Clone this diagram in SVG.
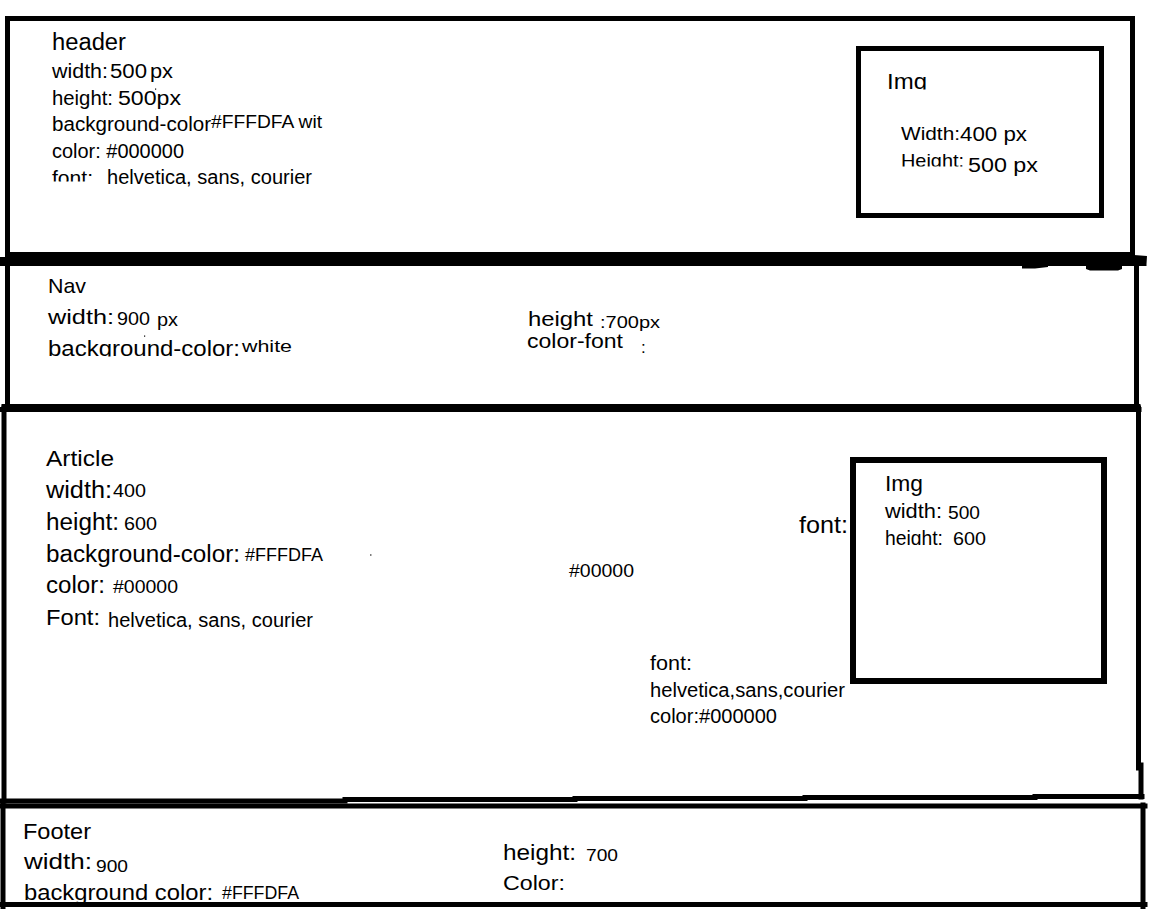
<svg xmlns="http://www.w3.org/2000/svg" width="1152" height="909" viewBox="0 0 1152 909">
<style>
.b{fill:none;stroke:#000;stroke-width:5;stroke-linecap:square}
.t{font-family:"Liberation Sans",Arial,sans-serif;fill:#000}
</style>
<defs>
<clipPath id="cHeadFont" clipPathUnits="userSpaceOnUse"><rect x="40" y="160" width="70" height="21.5"/></clipPath>
<clipPath id="cImg1" clipPathUnits="userSpaceOnUse"><rect x="870" y="60" width="80" height="29.5"/></clipPath>
<clipPath id="cH1" clipPathUnits="userSpaceOnUse"><rect x="890" y="145" width="80" height="21.5"/></clipPath>
<clipPath id="cNavBg" clipPathUnits="userSpaceOnUse"><rect x="40" y="330" width="210" height="26.5"/></clipPath>
<clipPath id="cImg2H" clipPathUnits="userSpaceOnUse"><rect x="875" y="522" width="130" height="23"/></clipPath>
</defs>
<rect width="1152" height="909" fill="#fff"/>

<g id="header">
<rect class="b" x="7.5" y="18.5" width="1125" height="236"/>
<text class="t" x="52" y="50" font-size="23" textLength="74" lengthAdjust="spacingAndGlyphs">header</text>
<text class="t" x="52" y="78" font-size="20" textLength="56" lengthAdjust="spacingAndGlyphs">width:</text>
<text class="t" x="110" y="78" font-size="20" textLength="37" lengthAdjust="spacingAndGlyphs">500</text>
<text class="t" x="150" y="78" font-size="20" textLength="23" lengthAdjust="spacingAndGlyphs">px</text>
<text class="t" x="52" y="105" font-size="20" textLength="61" lengthAdjust="spacingAndGlyphs">height:</text>
<text class="t" x="118" y="105" font-size="20" textLength="63" lengthAdjust="spacingAndGlyphs">500px</text>
<text class="t" x="52" y="131" font-size="20" textLength="159" lengthAdjust="spacingAndGlyphs">background-color</text>
<text class="t" x="211" y="128" font-size="18" textLength="111" lengthAdjust="spacingAndGlyphs">#FFFDFA wit</text>
<text class="t" x="52" y="158" font-size="20" textLength="132" lengthAdjust="spacingAndGlyphs">color: #000000</text>
<text class="t" x="52" y="185" font-size="20" textLength="41" lengthAdjust="spacingAndGlyphs" clip-path="url(#cHeadFont)">font:</text>
<text class="t" x="107" y="184" font-size="20" textLength="205" lengthAdjust="spacingAndGlyphs">helvetica, sans, courier</text>
<rect x="155" y="88.5" width="1.2" height="1.2" fill="#000"/>
</g>

<g id="header-img">
<rect class="b" x="858.5" y="48.5" width="243" height="167"/>
<text class="t" x="887" y="89" font-size="22" textLength="40" lengthAdjust="spacingAndGlyphs" clip-path="url(#cImg1)">Img</text>
<text class="t" x="901" y="140" font-size="18.5" textLength="59" lengthAdjust="spacingAndGlyphs">Width:</text>
<text class="t" x="960" y="141" font-size="20" textLength="67" lengthAdjust="spacingAndGlyphs">400 px</text>
<text class="t" x="901" y="167" font-size="18.5" textLength="63" lengthAdjust="spacingAndGlyphs" clip-path="url(#cH1)">Height:</text>
<text class="t" x="968" y="172" font-size="20" textLength="70" lengthAdjust="spacingAndGlyphs">500 px</text>
</g>

<g id="nav">
<path class="b" d="M2 261.5 H1142" style="stroke-width:9"/>
<path d="M1134 255 L1147 256 L1146 264 L1136 265 Z" fill="#000"/>
<path class="b" d="M7.5 262 V408"/>
<path class="b" d="M4 406.5 H1138"/>
<path class="b" d="M1136.5 262 V407"/>
<path d="M1022 265 H1048 V267 L1035 268.5 H1022 Z M1086 265 H1122 V269 L1118 270.5 H1090 L1086 269 Z" fill="#000"/>
<text class="t" x="48" y="293" font-size="21" textLength="38" lengthAdjust="spacingAndGlyphs">Nav</text>
<text class="t" x="48" y="324" font-size="20" textLength="66" lengthAdjust="spacingAndGlyphs">width:</text>
<text class="t" x="117" y="325" font-size="17.5" textLength="33" lengthAdjust="spacingAndGlyphs">900</text>
<text class="t" x="157" y="326" font-size="17.5" textLength="21" lengthAdjust="spacingAndGlyphs">px</text>
<text class="t" x="48" y="356" font-size="22" textLength="192" lengthAdjust="spacingAndGlyphs" clip-path="url(#cNavBg)">background-color:</text>
<text class="t" x="242" y="352" font-size="16" textLength="50" lengthAdjust="spacingAndGlyphs">white</text>
<text class="t" x="528" y="326" font-size="19.5" textLength="65" lengthAdjust="spacingAndGlyphs">height</text>
<text class="t" x="600" y="328" font-size="17" textLength="60" lengthAdjust="spacingAndGlyphs">:700px</text>
<text class="t" x="527" y="348" font-size="19.5" textLength="96" lengthAdjust="spacingAndGlyphs">color-font</text>
<text class="t" x="641" y="353" font-size="17">:</text>
<rect x="144" y="335.5" width="1.2" height="1.2" fill="#000"/>
</g>

<g id="article">
<path class="b" d="M1 409.5 H1139"/>
<path class="b" d="M4 408 V801"/>
<path class="b" d="M1138.5 408 V768 M1141 765 V797"/>
<path class="b" d="M1 801 H345 M345 799.5 H575 M575 798.5 H805 M805 797.5 H1035 M1035 796.5 H1142"/>
<text class="t" x="46" y="466" font-size="22" textLength="68" lengthAdjust="spacingAndGlyphs">Article</text>
<text class="t" x="46" y="498" font-size="23" textLength="66" lengthAdjust="spacingAndGlyphs">width:</text>
<text class="t" x="113" y="497" font-size="18.5" textLength="33" lengthAdjust="spacingAndGlyphs">400</text>
<text class="t" x="46" y="530" font-size="23" textLength="73" lengthAdjust="spacingAndGlyphs">height:</text>
<text class="t" x="124" y="530" font-size="18.5" textLength="33" lengthAdjust="spacingAndGlyphs">600</text>
<text class="t" x="46" y="562" font-size="23" textLength="194" lengthAdjust="spacingAndGlyphs">background-color:</text>
<text class="t" x="245" y="561" font-size="18.5" textLength="78" lengthAdjust="spacingAndGlyphs">#FFFDFA</text>
<text class="t" x="46" y="593" font-size="23" textLength="59" lengthAdjust="spacingAndGlyphs">color:</text>
<text class="t" x="113" y="593" font-size="18.5" textLength="65" lengthAdjust="spacingAndGlyphs">#00000</text>
<text class="t" x="46" y="625" font-size="22" textLength="54" lengthAdjust="spacingAndGlyphs">Font:</text>
<text class="t" x="108" y="627" font-size="19.5" textLength="205" lengthAdjust="spacingAndGlyphs">helvetica, sans, courier</text>
<rect x="370" y="554.5" width="1.5" height="1" fill="#000"/>
<text class="t" x="569" y="577" font-size="19" textLength="65" lengthAdjust="spacingAndGlyphs">#00000</text>
<text class="t" x="799" y="533" font-size="24" textLength="49" lengthAdjust="spacingAndGlyphs">font:</text>
<text class="t" x="650" y="670" font-size="19.5" textLength="42" lengthAdjust="spacingAndGlyphs">font:</text>
<text class="t" x="650" y="697" font-size="19.5" textLength="195" lengthAdjust="spacingAndGlyphs">helvetica,sans,courier</text>
<text class="t" x="650" y="723" font-size="19.5" textLength="127" lengthAdjust="spacingAndGlyphs">color:#000000</text>
</g>

<g id="article-img">
<rect class="b" x="853" y="460" width="251" height="221" style="stroke-width:6"/>
<text class="t" x="885" y="491" font-size="22" textLength="38" lengthAdjust="spacingAndGlyphs">Img</text>
<text class="t" x="885" y="518" font-size="19.5" textLength="57" lengthAdjust="spacingAndGlyphs">width:</text>
<text class="t" x="948" y="519" font-size="18.5" textLength="32" lengthAdjust="spacingAndGlyphs">500</text>
<g clip-path="url(#cImg2H)">
<text class="t" x="885" y="545" font-size="19.5" textLength="58" lengthAdjust="spacingAndGlyphs">height:</text>
<text class="t" x="953" y="545" font-size="18.5" textLength="33" lengthAdjust="spacingAndGlyphs">600</text>
</g>
</g>

<g id="footer">
<text class="t" x="23" y="839" font-size="22" textLength="68" lengthAdjust="spacingAndGlyphs">Footer</text>
<text class="t" x="24" y="869" font-size="22" textLength="68" lengthAdjust="spacingAndGlyphs">width:</text>
<text class="t" x="96" y="872" font-size="17" textLength="32" lengthAdjust="spacingAndGlyphs">900</text>
<text class="t" x="24" y="900" font-size="22" textLength="189" lengthAdjust="spacingAndGlyphs">background color:</text>
<text class="t" x="222" y="899" font-size="17.5" textLength="77" lengthAdjust="spacingAndGlyphs">#FFFDFA</text>
<text class="t" x="503" y="860" font-size="22" textLength="73" lengthAdjust="spacingAndGlyphs">height:</text>
<text class="t" x="586" y="861" font-size="17" textLength="32" lengthAdjust="spacingAndGlyphs">700</text>
<text class="t" x="503" y="890" font-size="21" textLength="62" lengthAdjust="spacingAndGlyphs">Color:</text>
<path class="b" d="M1 806 H1145"/>
<path class="b" d="M3 805 V907"/>
<path class="b" d="M1143 805 V907"/>
<path class="b" d="M1 904.5 H1145"/>
</g>
</svg>
